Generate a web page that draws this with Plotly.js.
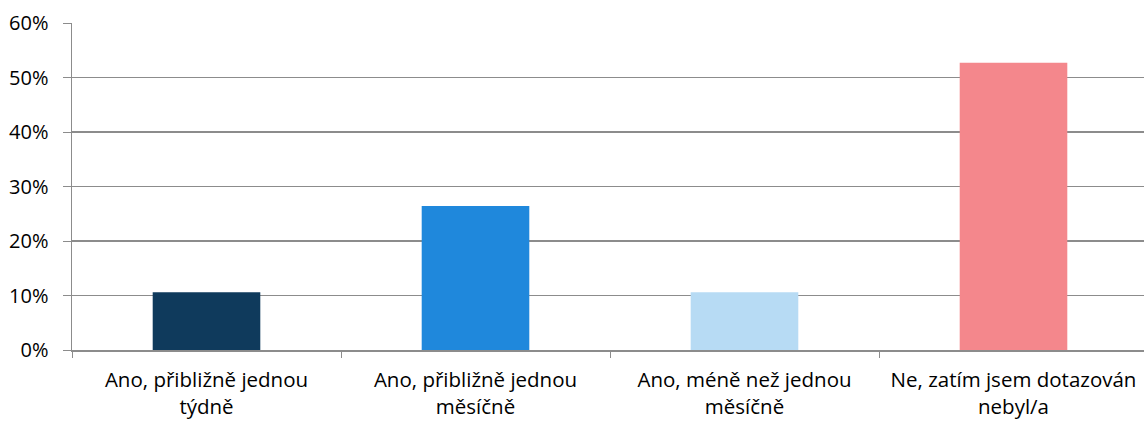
<!DOCTYPE html>
<html>
<head>
<meta charset="utf-8">
<script src="https://cdn.plot.ly/plotly-3.0.1.min.js"></script>
<style>
  html, body { margin: 0; padding: 0; overflow: hidden; background: #fff; }
</style>
</head>
<body>
<div id="plot"></div>
<script>
/*
Dotazování - četnost
*/

var categories = [
  "Ano, přibližně jednou<br>týdně",
  "Ano, přibližně jednou<br>měsíčně",
  "Ano, méně než jednou<br>měsíčně",
  "Ne, zatím jsem dotazován<br>nebyl/a"
];
var shares = [0.106, 0.264, 0.106, 0.527];
var barColors = ['#0F3A5C', '#1F88DC', '#B7DBF4', '#F4878C'];
var yTicks = [0, 0.1, 0.2, 0.3, 0.4, 0.5, 0.6];

var trace1 =
{
  x: categories,
  y: shares,
  type: "bar",
  marker: { color: barColors },
  hoverinfo: "none"
};

var data = [trace1];

var layout =
{
  width: 1148,
  height: 421,
  margin: { l: 72, r: 0, t: 23, b: 71 },
  paper_bgcolor: '#ffffff',
  plot_bgcolor: '#ffffff',
  showlegend: false,
  bargap: 0.6,
  font: { family: "Open Sans, sans-serif", size: 20, color: '#000000' },
  xaxis:
  {
    type: "category",
    showline: true,
    linecolor: '#8c8c8c',
    linewidth: 1.5,
    ticks: "outside",
    tickson: "boundaries",
    ticklen: 6,
    tickcolor: '#8c8c8c',
    showgrid: false,
    ticklabelstandoff: 11,
    tickfont: { size: 20.5 }
  },
  yaxis:
  {
    range: [0, 0.6],
    tickvals: yTicks,
    tickformat: ".0%",
    showline: true,
    linecolor: '#8c8c8c',
    linewidth: 1.5,
    ticks: "outside",
    ticklen: 8,
    tickcolor: '#8c8c8c',
    showgrid: true,
    gridcolor: '#8c8c8c',
    gridwidth: 1.5,
    zeroline: false,
    ticklabelstandoff: 10,
    tickfont: { size: 20 }
  }
};

Plotly.newPlot("plot", data, layout, { displayModeBar: false, staticPlot: true });
</script>
</body>
</html>
